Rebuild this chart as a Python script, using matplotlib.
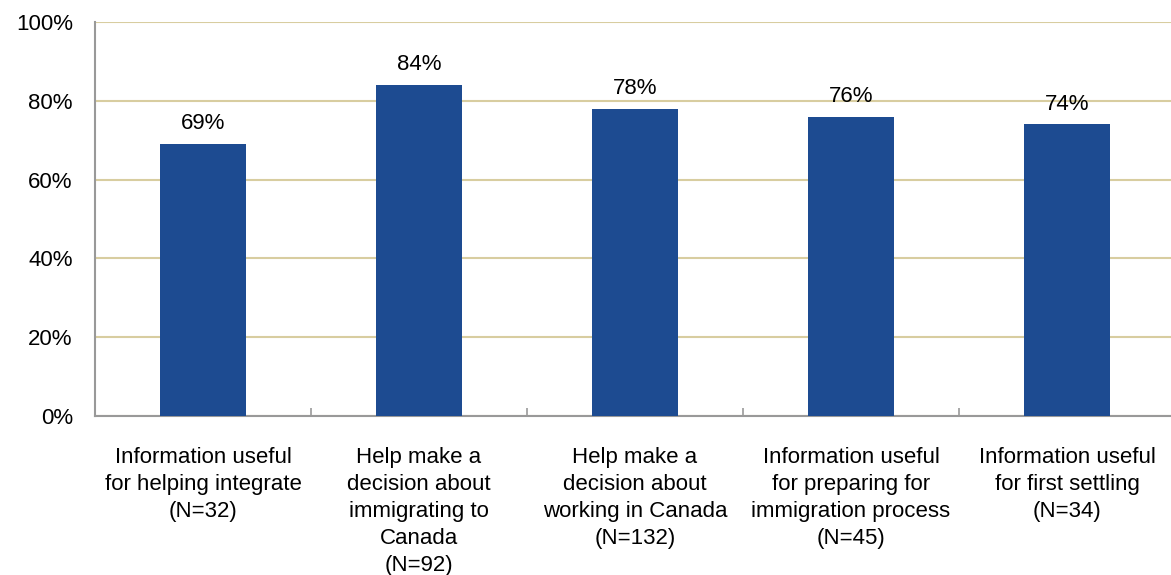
import matplotlib
matplotlib.use("Agg")
import matplotlib.pyplot as plt
from matplotlib.ticker import FixedLocator, PercentFormatter

plt.rcParams['font.family'] = ['Liberation Sans', 'DejaVu Sans']

categories = [
    "Information useful\nfor helping integrate\n(N=32)",
    "Help make a\ndecision about\nimmigrating to\nCanada\n(N=92)",
    "Help make a\ndecision about\nworking in Canada\n(N=132)",
    "Information useful\nfor preparing for\nimmigration process\n(N=45)",
    "Information useful\nfor first settling\n(N=34)",
]
values = [69, 84, 78, 76, 74]
y_ticks = [0, 20, 40, 60, 80, 100]

bar_color = "#1D4B91"
grid_color = "#D8CDA0"
spine_color = "#999999"
fs = 16

fig = plt.figure(figsize=(11.71, 5.75), dpi=100)
ax = fig.add_axes([95 / 1171, 1 - 416 / 575, 1080 / 1171, (416 - 22) / 575])

x = list(range(len(categories)))
ax.bar(x, values, width=0.40, color=bar_color, zorder=3)

for xi, v in zip(x, values):
    ax.text(xi, v + 2.5, f"{v}%", ha="center", va="bottom", fontsize=fs, color="black", zorder=4)

ax.set_xlim(-0.5, len(categories) - 0.5)
ax.set_ylim(0, 100)
ax.yaxis.set_major_locator(FixedLocator(y_ticks))
ax.yaxis.set_major_formatter(PercentFormatter(decimals=0))
ax.tick_params(axis="y", length=0, labelsize=fs, pad=16)
ax.yaxis.grid(True, color=grid_color, linewidth=1.5, zorder=0)

ax.set_xticks(x)
ax.set_xticklabels(categories, fontsize=fs, linespacing=1.38)
ax.tick_params(axis="x", length=0, pad=22)
# boundary tick marks between categories
ax.set_xticks([i + 0.5 for i in range(len(categories) - 1)], minor=True)
ax.tick_params(axis="x", which="minor", direction="in", length=6, color=spine_color, width=1.2)

for side in ("top", "right"):
    ax.spines[side].set_visible(False)
for side in ("left", "bottom"):
    ax.spines[side].set_color(spine_color)
    ax.spines[side].set_linewidth(1.5)

fig.savefig("out.png", dpi=100)
